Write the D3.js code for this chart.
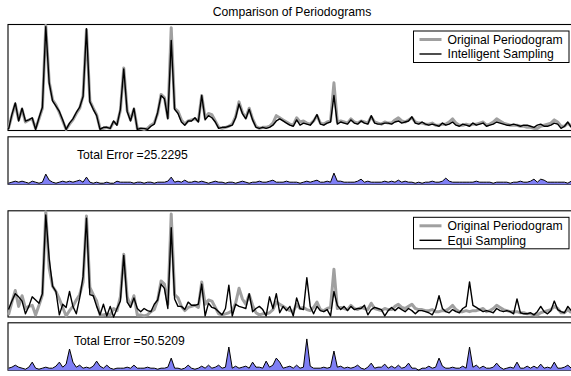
<!DOCTYPE html>
<html>
<head>
<meta charset="utf-8">
<script src="https://cdn.jsdelivr.net/npm/d3@7"></script>
<style>
  html, body { margin: 0; padding: 0; background: #fff; }
  svg { display: block; font-family: "Liberation Sans", Arial, Helvetica, sans-serif; }
</style>
</head>
<body>
<script>
// periodogram values (0..100 = panel height)
const original = [
  2, 14, 25, 10, 20, 8, 10, 11, 2, 11,
  21, 99, 46, 29, 24, 17, 9, 1, 6, 10,
  16, 21, 33, 95, 28, 21, 15, 2, 2, 3,
  2, 8, 6, 19, 59, 19, 10, 20, 2, 2,
  1, 2, 5, 7, 16, 34, 31, 12, 97, 21,
  18, 10, 6, 9, 10, 11, 9, 33, 12, 16,
  15, 9, 3, 2, 3, 4, 6, 13, 27, 17,
  12, 21, 11, 4, 2, 3, 3, 4, 7, 14,
  12, 10, 8, 6, 5, 12, 8, 9, 7, 6,
  9, 14, 7, 6, 8, 9, 45, 8, 9, 8,
  7, 11, 8, 7, 9, 8, 7, 13, 8, 7,
  6, 8, 7, 7, 10, 12, 9, 8, 10, 12,
  8, 7, 7, 6, 6, 7, 5, 5, 6, 6,
  8, 11, 7, 5, 5, 6, 5, 6, 6, 7,
  8, 5, 6, 8, 11, 9, 7, 6, 5, 5,
  5, 4, 4, 3, 3, 2, 2, 4, 5, 6,
  7, 10, 8, 4, 4, 7, 4
];

const intelligent = [
  1, 15, 26, 9, 21, 9, 10, 12, 1, 12,
  22, 98, 45, 28, 23, 18, 10, 1, 7, 11,
  17, 22, 32, 96, 27, 20, 14, 1, 3, 3,
  2, 9, 5, 20, 58, 18, 9, 21, 1, 2,
  2, 1, 4, 6, 17, 33, 30, 11, 85, 20,
  16, 8, 5, 9, 9, 12, 8, 33, 10, 14,
  12, 8, 2, 3, 3, 4, 5, 12, 25, 16,
  11, 20, 10, 3, 2, 3, 2, 3, 5, 9,
  11, 9, 7, 5, 4, 10, 5, 7, 6, 5,
  9, 15, 6, 5, 7, 8, 33, 6, 8, 7,
  6, 10, 7, 6, 9, 7, 6, 14, 7, 6,
  6, 7, 7, 6, 8, 9, 7, 8, 9, 13,
  7, 6, 8, 6, 5, 6, 5, 4, 7, 5,
  6, 8, 5, 4, 6, 5, 4, 7, 5, 6,
  7, 4, 5, 6, 8, 7, 6, 5, 5, 6,
  5, 4, 5, 5, 4, 3, 5, 6, 4, 4,
  5, 7, 6, 2, 4, 8, 3
];

const equi = [
  7, 15, 22, 19, 15, 3, 10, 19, 16, 13,
  22, 96, 55, 29, 24, 2, 12, 9, 24, 10,
  3, 18, 38, 93, 21, 20, 10, 2, 12, 1,
  10, 0, 8, 15, 58, 14, 9, 18, 8, 5,
  8, 6, 5, 12, 16, 31, 27, 8, 84, 17,
  10, 10, 7, 14, 11, 11, 12, 31, 1, 13,
  9, 8, 5, 2, 8, 30, 1, 12, 10, 9,
  8, 22, 5, 8, 10, 7, 1, 19, 8, 22,
  4, 10, 6, 10, 1, 18, 8, 7, 37, 10,
  3, 10, 6, 5, 7, 1, 24, 11, 7, 10,
  6, 10, 7, 8, 8, 11, 2, 7, 9, 8,
  7, 1, 6, 9, 6, 9, 7, 5, 8, 6,
  3, 6, 6, 5, 4, 2, 8, 20, 8, 5,
  4, 7, 5, 4, 8, 10, 33, 11, 9, 7,
  5, 6, 5, 4, 8, 6, 5, 6, 5, 3,
  17, 4, 3, 3, 4, 2, 5, 10, 5, 3,
  6, 15, 7, 5, 4, 10, 6
];

// error curves (0..47 = panel height)
const errIntelligent = [
  1, 2, 3, 2, 3, 2, 1, 3, 2, 1,
  2, 10, 4, 2, 1, 2, 3, 2, 3, 2,
  3, 4, 2, 7, 2, 1, 2, 1, 1, 2,
  1, 1, 3, 2, 2, 2, 2, 1, 2, 2,
  1, 2, 2, 1, 2, 2, 2, 3, 7, 2,
  3, 2, 4, 2, 2, 3, 2, 3, 2, 1,
  2, 3, 2, 2, 1, 2, 2, 1, 2, 3,
  2, 1, 2, 2, 3, 2, 2, 3, 4, 2,
  2, 2, 3, 2, 2, 2, 1, 2, 3, 2,
  3, 4, 2, 2, 3, 2, 11, 3, 3, 2,
  2, 2, 2, 3, 5, 2, 3, 2, 2, 2,
  2, 3, 2, 3, 2, 4, 2, 3, 2, 2,
  1, 2, 1, 2, 2, 3, 2, 2, 3, 6,
  3, 2, 2, 2, 2, 2, 2, 2, 3, 2,
  2, 2, 2, 1, 2, 2, 2, 2, 1, 2,
  2, 3, 2, 2, 3, 5, 2, 5, 4, 2,
  2, 2, 2, 2, 2, 1, 3
];

const errEqui = [
  2, 3, 5, 3, 2, 1, 3, 8, 2, 1,
  2, 3, 2, 2, 4, 8, 3, 6, 21, 8,
  3, 5, 2, 3, 2, 4, 9, 4, 2, 5,
  2, 1, 2, 2, 2, 3, 2, 5, 2, 2,
  2, 3, 2, 2, 1, 2, 2, 3, 12, 2,
  2, 1, 2, 5, 2, 1, 2, 4, 2, 5,
  2, 3, 5, 2, 3, 23, 2, 4, 2, 3,
  4, 2, 8, 3, 3, 2, 9, 3, 5, 12,
  8, 2, 3, 4, 2, 5, 2, 3, 31, 4,
  2, 2, 2, 3, 2, 3, 19, 3, 4, 2,
  3, 2, 3, 5, 2, 1, 3, 7, 2, 3,
  3, 6, 2, 4, 2, 5, 2, 3, 7, 2,
  2, 0, 2, 2, 4, 2, 3, 12, 4, 2,
  2, 3, 2, 2, 4, 2, 23, 3, 5, 2,
  4, 2, 2, 3, 7, 3, 1, 2, 3, 2,
  8, 2, 2, 4, 2, 4, 2, 6, 2, 3,
  2, 8, 2, 2, 3, 5, 2
];

const totalErrors = ["25.2295", "50.5209"];
const legendLabels = [
  ["Original Periodogram", "Intelligent Sampling"],
  ["Original Periodogram", "Equi Sampling"]
];

const W = 571, H = 376;
const FONT = 12.2;

const svg = d3.select("body").append("svg")
  .attr("width", W)
  .attr("height", H);

const x = d3.scaleLinear()
  .domain([0, original.length - 1])
  .range([8.5, 8.5 + 3.39 * (original.length - 1)]);

svg.append("text")
  .attr("x", 292)
  .attr("y", 16)
  .attr("text-anchor", "middle")
  .attr("font-size", FONT)
  .text("Comparison of Periodograms");

// draws the box of an axes; right side runs off the canvas like the original
function frame(top, bottom) {
  svg.append("rect")
    .attr("x", 8)
    .attr("y", top)
    .attr("width", 620)
    .attr("height", bottom - top)
    .attr("fill", "none")
    .attr("stroke", "#000")
    .attr("stroke-width", 1.1);
}

function periodogramPanel(top, bottom, sampled, labels) {
  const y = d3.scaleLinear().domain([0, 100]).range([bottom, top]);
  const line = d3.line().x((d, i) => x(i)).y(d => y(d));

  frame(top, bottom);

  svg.append("path")
    .datum(original)
    .attr("d", line)
    .attr("fill", "none")
    .attr("stroke", "#a0a0a0")
    .attr("stroke-width", 3)
    .attr("stroke-linejoin", "round");

  svg.append("path")
    .datum(sampled)
    .attr("d", line)
    .attr("fill", "none")
    .attr("stroke", "#000")
    .attr("stroke-width", 1.4)
    .attr("stroke-linejoin", "round");

  // legend
  const lg = svg.append("g").attr("transform", `translate(413.5,${top + 6.5})`);
  lg.append("rect")
    .attr("width", 155.5)
    .attr("height", 31.5)
    .attr("fill", "#fff")
    .attr("stroke", "#000")
    .attr("stroke-width", 1);

  lg.selectAll("line")
    .data(labels)
    .join("line")
    .attr("x1", 6).attr("x2", 28)
    .attr("y1", (d, i) => 8.5 + i * 14.5)
    .attr("y2", (d, i) => 8.5 + i * 14.5)
    .attr("stroke", (d, i) => i === 0 ? "#a0a0a0" : "#000")
    .attr("stroke-width", (d, i) => i === 0 ? 3 : 1.4);

  lg.selectAll("text")
    .data(labels)
    .join("text")
    .attr("x", 34)
    .attr("y", (d, i) => 12.8 + i * 14.5)
    .attr("font-size", FONT)
    .text(d => d);
}

function errorPanel(top, bottom, err, total, textX) {
  const y = d3.scaleLinear().domain([0, 47]).range([bottom, top]);
  const area = d3.area().x((d, i) => x(i)).y0(y(0)).y1(d => y(d));
  const line = d3.line().x((d, i) => x(i)).y(d => y(d));

  frame(top, bottom);

  svg.append("path")
    .datum(err)
    .attr("d", area)
    .attr("fill", "#7f7ff5");

  svg.append("path")
    .datum(err)
    .attr("d", line)
    .attr("fill", "none")
    .attr("stroke", "#000")
    .attr("stroke-width", 1);

  svg.append("text")
    .attr("x", textX)
    .attr("y", top + 21.8)
    .attr("font-size", FONT)
    .text("Total Error =" + total);
}

periodogramPanel(24.5, 130.5, intelligent, legendLabels[0]);
errorPanel(136.8, 184.2, errIntelligent, totalErrors[0], 77);
periodogramPanel(210.8, 317, equi, legendLabels[1]);
errorPanel(322.8, 370.2, errEqui, totalErrors[1], 74);
</script>
</body>
</html>
